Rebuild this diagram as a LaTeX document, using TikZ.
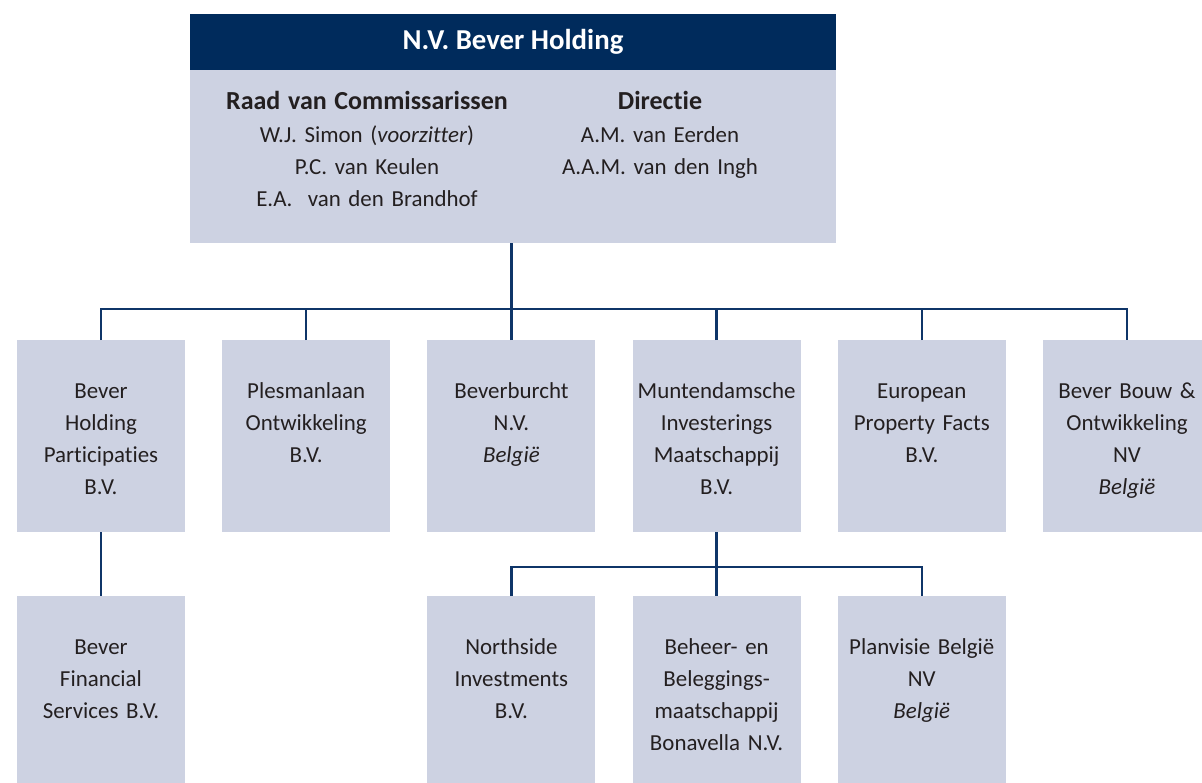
\documentclass[tikz,border=0pt]{standalone}
\usepackage{fontspec}
\setmainfont{Carlito}[Ligatures=NoCommon]
\usetikzlibrary{positioning}

\definecolor{navy}{HTML}{002B5C}
\definecolor{linkblue}{HTML}{0F3568}
\definecolor{boxfill}{HTML}{CDD2E2}
\definecolor{ink}{HTML}{231F20}

\newcommand{\bodyfont}{\fontsize{16.3}{22.8}\selectfont}
\newcommand{\headfont}{\bfseries\fontsize{18.5}{22.8}\selectfont}

\begin{document}
\begin{tikzpicture}[
  node distance=1.6cm and 0.93cm,
  every node/.style={font=\bodyfont, text=ink},
  unit/.style={fill=boxfill, text width=4.2cm, minimum width=4.2cm, inner sep=0pt,
               outer sep=0pt, align=center, text height=1.45cm, text depth=3.35cm},
  title/.style={fill=navy, text=white, font=\bfseries\fontsize{20.5}{24}\selectfont,
                minimum width=16.15cm, minimum height=1.4cm, inner sep=0pt, outer sep=0pt},
  board/.style={fill=boxfill, minimum width=16.15cm, minimum height=4.325cm,
                inner sep=0pt, outer sep=0pt},
  col/.style={text width=7.3cm, align=center, inner sep=0pt, anchor=base},
  link/.style={draw=linkblue, line width=1.7pt}
]
\useasboundingbox (0,0) rectangle (30.05,-19.575);
\clip (0,0) rectangle (30.05,-19.575);

%% Holding
\node[title, anchor=north] (holding) at (12.825,-0.35) {N.V. Bever Holding};
\node[board, below=0pt of holding] (board) {};
\node[col] (rvc) at ([xshift=-3.65cm, yshift=-1.0cm]board.north)
  {{\headfont Raad van Commissarissen}\\W.J. Simon (\textit{voorzitter})\\P.C. van Keulen\\E.A.\ \ van den Brandhof};
\node[col] (dir) at ([xshift=3.675cm, yshift=-1.0cm]board.north)
  {{\headfont Directie}\\A.M. van Eerden\\A.A.M. van den Ingh};

%% Participations
\node[unit, anchor=north west] (bhp) at (0.425,-8.5) {Bever\\Holding\\Participaties\\B.V.};
\node[unit, right=of bhp] (pol) {Plesmanlaan\\Ontwikkeling\\B.V.};
\node[unit, right=of pol] (bbn) {Beverburcht\\N.V.\\\textit{België}};
\node[unit, right=of bbn] (mim) {Muntendamsche\\Investerings\\Maatschappij\\B.V.};
\node[unit, right=of mim] (epf) {European\\Property Facts\\B.V.};
\node[unit, right=of epf] (bbo) {Bever Bouw \&\\Ontwikkeling\\NV\\\textit{België}};

\node[unit, below=of bhp] (bfs) {Bever\\Financial\\Services B.V.};
\node[unit, below=of bbn] (nsi) {Northside\\Investments\\B.V.};
\node[unit, below=of mim] (bbm) {Beheer- en\\Beleggings-\\maatschappij\\Bonavella N.V.};
\node[unit, below=of epf] (pvb) {Planvisie België\\NV\\\textit{België}};

%% Lines
\draw[link] (bbn.north) -- (bbn.north |- board.south);
\draw[link] (bhp.north) -- ++(0,0.775) -| (bbo.north);
\foreach \n in {pol, mim, epf}
  \draw[link] (\n.north) -- ++(0,0.775);
\draw[link] (bhp.south) -- (bfs.north);
\draw[link] (mim.south) -- (bbm.north);
\draw[link] (nsi.north) -- ++(0,0.725) -| (pvb.north);

\end{tikzpicture}
\end{document}
